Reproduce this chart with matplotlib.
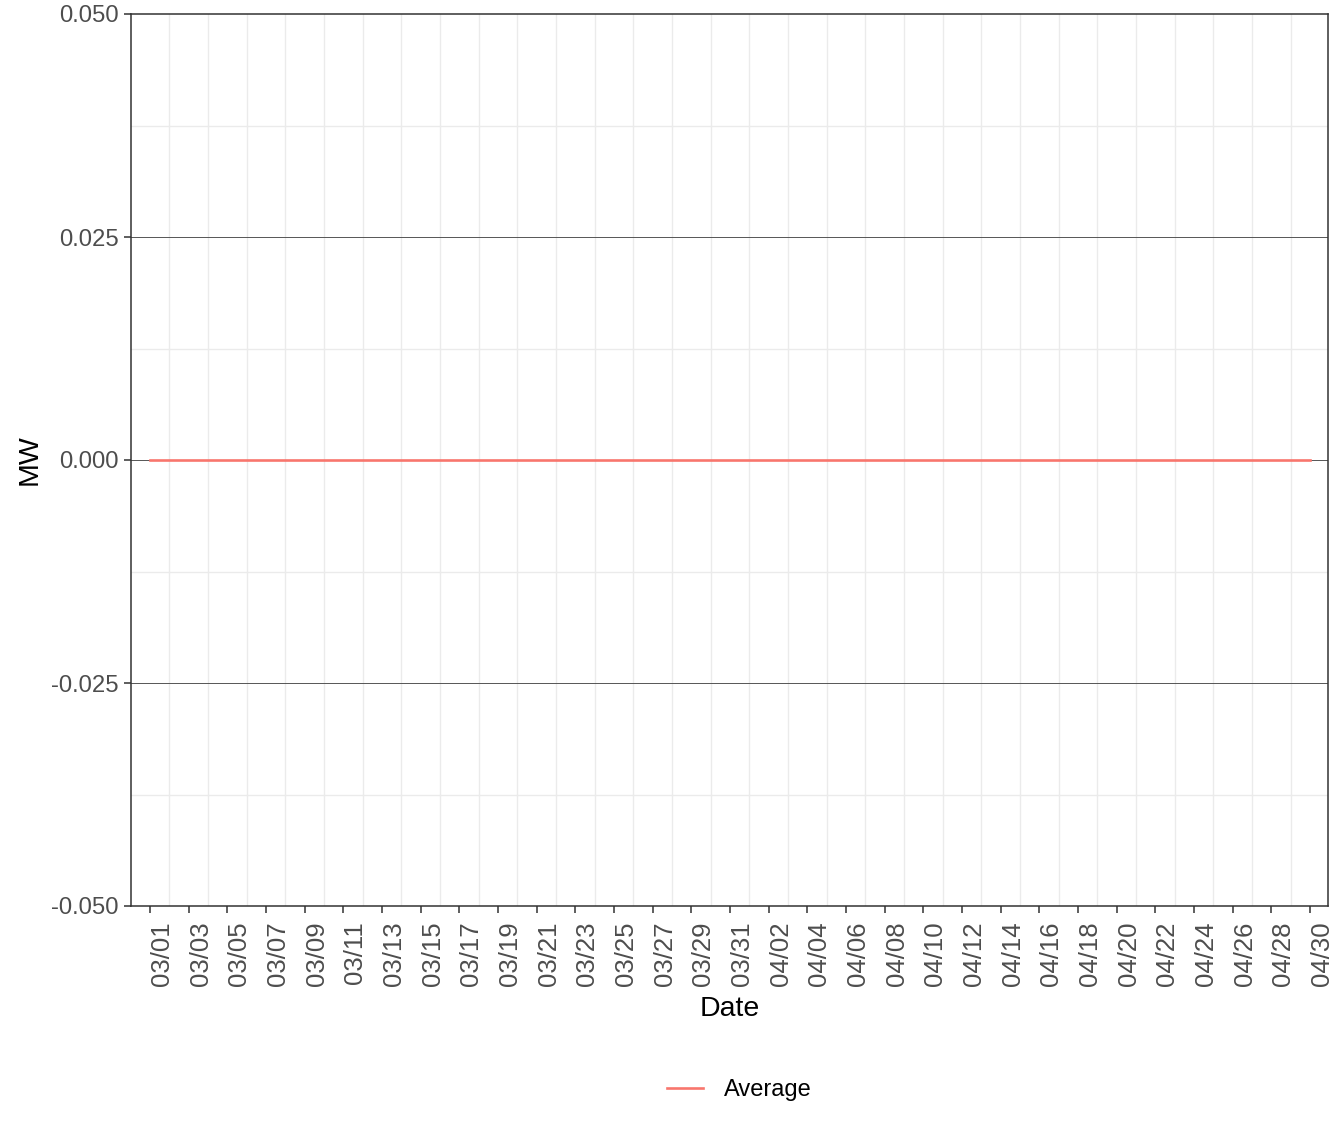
import numpy as np
import pandas as pd
import matplotlib
matplotlib.use('Agg')
import matplotlib.pyplot as plt
import matplotlib.dates as mdates

plt.rcParams['font.family'] = ['Liberation Sans', 'DejaVu Sans']

# daily average, Mar 1 - Apr 30
dates = pd.date_range('2020-03-01', '2020-04-30', freq='D')
avg_mw = [0.0, 0.0, 0.0, 0.0, 0.0, 0.0, 0.0, 0.0, 0.0, 0.0,
          0.0, 0.0, 0.0, 0.0, 0.0, 0.0, 0.0, 0.0, 0.0, 0.0,
          0.0, 0.0, 0.0, 0.0, 0.0, 0.0, 0.0, 0.0, 0.0, 0.0,
          0.0, 0.0, 0.0, 0.0, 0.0, 0.0, 0.0, 0.0, 0.0, 0.0,
          0.0, 0.0, 0.0, 0.0, 0.0, 0.0, 0.0, 0.0, 0.0, 0.0,
          0.0, 0.0, 0.0, 0.0, 0.0, 0.0, 0.0, 0.0, 0.0, 0.0,
          0.0]
ref_lines = [0.025, 0.0, -0.025]
y_ticks = [0.050, 0.025, 0.000, -0.025, -0.050]
y_minor = [0.0375, 0.0125, -0.0125, -0.0375]

W, H = 1344, 1142
fig = plt.figure(figsize=(W / 100, H / 100), dpi=100)
ax = fig.add_axes([131 / W, 1 - 906 / H, (1328 - 131) / W, (906 - 14) / H])

tick_dates = dates[::2]
grid_dates = dates[1::2]

for d in grid_dates:
    ax.axvline(d, color='#ebebeb', lw=1.0, zorder=0)
for y in y_minor:
    ax.axhline(y, color='#ebebeb', lw=1.0, zorder=0)
for y in ref_lines:
    ax.axhline(y, color='#555555', lw=0.7, zorder=1)

ax.plot(dates, avg_mw, color='#F8766D', lw=1.9, label='Average', zorder=2)

ax.set_xlim(mdates.date2num(dates[0]) - 0.98, mdates.date2num(dates[-1]) + 0.93)
ax.set_ylim(-0.05, 0.05)

ax.set_xticks(tick_dates)
ax.set_xticklabels([d.strftime('%m/%d') for d in tick_dates], rotation=90, ha='left')
ax.set_yticks(y_ticks)
ax.set_yticklabels(['%.3f' % v for v in y_ticks])

ax.tick_params(axis='both', labelcolor='#4d4d4d', color='#333333',
               length=5, width=1.1)
ax.tick_params(axis='x', labelsize=18.5, pad=6)
ax.tick_params(axis='y', labelsize=17.2, pad=4)
for s in ax.spines.values():
    s.set_color('#333333')
    s.set_linewidth(1.1)

ax.set_xlabel('Date', fontsize=20.5, labelpad=7)
ax.set_ylabel('MW', fontsize=20.5, labelpad=6)

fig.legend(loc='center', bbox_to_anchor=(739 / W, 1 - 1090 / H), frameon=False,
           fontsize=17, handlelength=1.55, handletextpad=0.85)

fig.savefig('out.png', dpi=100)
